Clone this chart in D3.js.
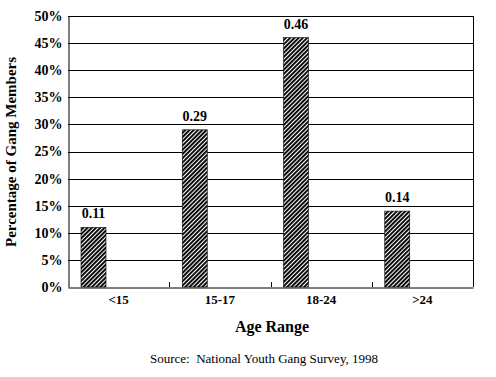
<!DOCTYPE html>
<html><head><meta charset="utf-8">
<script src="https://cdn.jsdelivr.net/npm/d3@7"></script>
<style>body{margin:0;background:#fff}svg{display:block}</style>
</head><body>
<script>
const categories = ["<15", "15-17", "18-24", ">24"];
const values = [0.11, 0.29, 0.46, 0.14];
const yTicks = [0, 0.05, 0.10, 0.15, 0.20, 0.25, 0.30, 0.35, 0.40, 0.45, 0.50];
const yTitle = "Percentage of Gang Members";
const xTitle = "Age Range";
const sourceText = "Source:  National Youth Gang Survey, 1998";

const W = 496, H = 377;
const m = {left: 68, right: 23, top: 16, bottom: 90};
const svg = d3.select("body").append("svg").attr("width", W).attr("height", H);
const font = "'Liberation Serif','Times New Roman',serif";

const defs = svg.append("defs");
const pat = defs.append("pattern").attr("id", "hatch").attr("patternUnits", "userSpaceOnUse")
  .attr("width", 3).attr("height", 3).attr("patternTransform", "rotate(45)");
pat.append("rect").attr("width", 3).attr("height", 3).attr("fill", "#fff");
pat.append("rect").attr("width", 1.9).attr("height", 3).attr("fill", "#000");

const x = d3.scaleBand().domain(categories).range([m.left, W - m.right]).padding(0);
const y = d3.scaleLinear().domain([0, 0.5]).range([H - m.bottom, m.top]);

// gridlines
svg.append("g").selectAll("line").data(yTicks.filter(d => d > 0)).join("line")
  .attr("x1", m.left).attr("x2", W - m.right)
  .attr("y1", d => Math.round(y(d)) + 0.5).attr("y2", d => Math.round(y(d)) + 0.5)
  .attr("stroke", "#000").attr("stroke-width", 1);

// right border
svg.append("line").attr("x1", W - m.right + 0.5).attr("x2", W - m.right + 0.5)
  .attr("y1", y(0.5)).attr("y2", y(0)).attr("stroke", "#000");

// y axis
const yAxis = d3.axisLeft(y).tickValues(yTicks).tickFormat(d3.format(".0%")).tickSize(0).tickPadding(6);
const gy = svg.append("g").attr("transform", `translate(${m.left + 0.5},0)`).call(yAxis);
gy.select(".domain").attr("stroke", "#000");
gy.selectAll("text").attr("font-family", font).attr("font-weight", "bold").attr("font-size", 14).attr("fill", "#000");

// x axis
const gx = svg.append("g").attr("transform", `translate(0,${Math.round(y(0)) + 0.5})`)
  .call(d3.axisBottom(x).tickSize(0).tickPadding(7));
gx.select(".domain").attr("stroke", "#000");
gx.selectAll("text").attr("font-family", font).attr("font-weight", "bold").attr("font-size", 13).attr("fill", "#000");
// inner tick marks at band boundaries
svg.append("g").selectAll("line").data(categories.slice(1)).join("line")
  .attr("x1", d => Math.round(x(d)) + 0.5).attr("x2", d => Math.round(x(d)) + 0.5)
  .attr("y1", y(0)).attr("y2", y(0) - 5).attr("stroke", "#000");

// bars
const barOff = 13, barW = 25;
svg.append("g").selectAll("rect").data(values).join("rect")
  .attr("x", (d, i) => x(categories[i]) + barOff)
  .attr("y", d => y(d))
  .attr("width", barW)
  .attr("height", d => y(0) - y(d))
  .attr("fill", "url(#hatch)")
  .attr("stroke", "#000").attr("stroke-width", 0.6);

// value labels
svg.append("g").selectAll("text").data(values).join("text")
  .attr("x", (d, i) => x(categories[i]) + barOff + barW / 2)
  .attr("y", d => y(d) - 9)
  .attr("text-anchor", "middle")
  .attr("font-family", font).attr("font-weight", "bold").attr("font-size", 14)
  .text(d => d3.format(".2f")(d));

// titles
svg.append("text").attr("transform", `translate(16,152) rotate(-90)`)
  .attr("text-anchor", "middle").attr("font-family", font).attr("font-weight", "bold").attr("font-size", 15)
  .text(yTitle);
svg.append("text").attr("x", 272).attr("y", 332).attr("text-anchor", "middle")
  .attr("font-family", font).attr("font-weight", "bold").attr("font-size", 16).text(xTitle);
svg.append("text").attr("x", 264).attr("y", 363).attr("text-anchor", "middle")
  .attr("font-family", font).attr("font-size", 13).style("white-space", "pre").text(sourceText);
</script>
</body></html>
